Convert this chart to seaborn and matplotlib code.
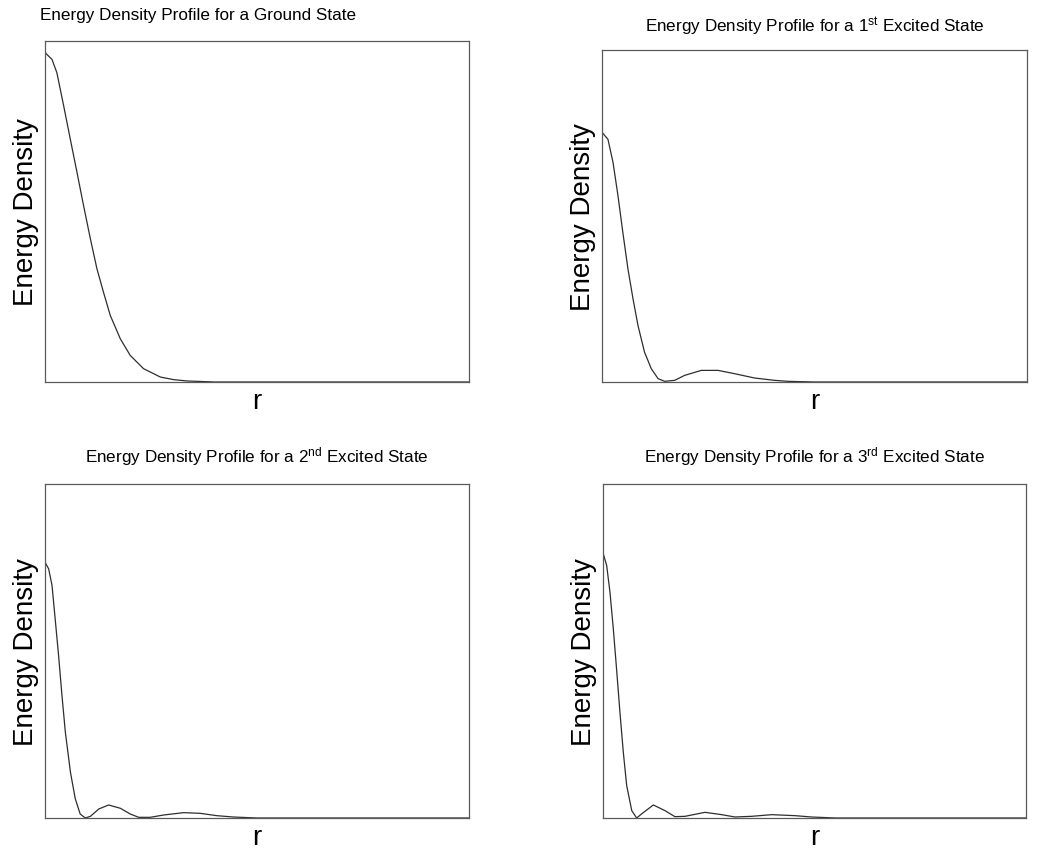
import numpy as np
import pandas as pd
import matplotlib
matplotlib.use("Agg")
import matplotlib.pyplot as plt
import seaborn as sns

# ---- data (normalized r, normalized energy density) ----
r_ground = [0.0, 0.0165, 0.028, 0.044, 0.0597, 0.0754, 0.091, 0.107, 0.1225, 0.138,
            0.154, 0.1775, 0.201, 0.2325, 0.272, 0.303, 0.335, 0.4, 0.6, 0.8, 1.0]
e_ground = [0.966, 0.946, 0.907, 0.81, 0.712, 0.615, 0.517, 0.42, 0.332, 0.263,
            0.195, 0.127, 0.078, 0.039, 0.0146, 0.007, 0.003, 0.0, 0.0, 0.0, 0.0]

r_first = [0.0, 0.014, 0.026, 0.0376, 0.049, 0.061, 0.0729, 0.0847, 0.100, 0.116,
           0.132, 0.1475, 0.171, 0.1945, 0.2337, 0.273, 0.3122, 0.359, 0.406, 0.438,
           0.5, 0.7, 1.0]
e_first = [0.752, 0.731, 0.661, 0.561, 0.451, 0.341, 0.251, 0.170, 0.090, 0.040,
           0.010, 0.002, 0.005, 0.020, 0.035, 0.035, 0.025, 0.012, 0.005, 0.002,
           0.0, 0.0, 0.0]

r_second = [0.0, 0.0086, 0.0165, 0.024, 0.032, 0.040, 0.048, 0.060, 0.0715, 0.083,
            0.095, 0.107, 0.127, 0.150, 0.178, 0.201, 0.221, 0.248, 0.280, 0.327,
            0.366, 0.405, 0.444, 0.5, 0.7, 1.0]
e_second = [0.766, 0.746, 0.697, 0.596, 0.487, 0.367, 0.257, 0.137, 0.057, 0.012,
            0.0, 0.005, 0.027, 0.039, 0.029, 0.012, 0.002, 0.002, 0.009, 0.016,
            0.014, 0.007, 0.003, 0.0, 0.0, 0.0]

r_third = [0.0, 0.0087, 0.0165, 0.0244, 0.032, 0.040, 0.048, 0.056, 0.068, 0.0796,
           0.091, 0.119, 0.1466, 0.170, 0.194, 0.241, 0.2806, 0.312, 0.351, 0.399,
           0.454, 0.493, 0.55, 0.75, 1.0]
e_third = [0.794, 0.756, 0.676, 0.566, 0.447, 0.317, 0.197, 0.097, 0.022, 0.0,
           0.012, 0.039, 0.022, 0.004, 0.005, 0.017, 0.010, 0.003, 0.005, 0.010,
           0.007, 0.003, 0.0, 0.0, 0.0]

titles = [
    "Energy Density Profile for a Ground State",
    r"Energy Density Profile for a 1$^{\mathrm{st}}$ Excited State",
    r"Energy Density Profile for a 2$^{\mathrm{nd}}$ Excited State",
    r"Energy Density Profile for a 3$^{\mathrm{rd}}$ Excited State",
]
x_label = "r"
y_label = "Energy Density"

# ---- style ----
sns.set_style("white")
plt.rcParams["font.family"] = ["Liberation Sans", "DejaVu Sans"]
plt.rcParams["text.color"] = "black"
plt.rcParams["axes.labelcolor"] = "black"
plt.rcParams["mathtext.fontset"] = "custom"
plt.rcParams["mathtext.rm"] = "Liberation Sans"
plt.rcParams["mathtext.it"] = "Liberation Sans:italic"
plt.rcParams["mathtext.bf"] = "Liberation Sans:bold"

fig = plt.figure(figsize=(10.54, 8.53), dpi=100)
W, H = 1054, 853
def px_axes(l, t, r, b):
    return fig.add_axes([l / W, 1 - b / H, (r - l) / W, (b - t) / H])

axes = [
    px_axes(45, 42, 469, 383),
    px_axes(602, 51, 1027, 383),
    px_axes(45, 485, 469, 819),
    px_axes(603, 485, 1026, 819),
]
data = [(r_ground, e_ground), (r_first, e_first), (r_second, e_second), (r_third, e_third)]
pads = [15.8, 13.7, 16.0, 16.0]

for i, (ax, (rx, ey)) in enumerate(zip(axes, data)):
    df = pd.DataFrame({"r": rx, "E": ey})
    sns.lineplot(data=df, x="r", y="E", ax=ax, color="#2e2e2e", linewidth=0.9)
    ax.set_xlim(0, 1)
    ax.set_ylim(0, 1)
    ax.set_xticks([])
    ax.set_yticks([])
    for s in ax.spines.values():
        s.set_visible(True)
        s.set_color("#5a5a5a")
        s.set_linewidth(0.9)
    ax.set_xlabel(x_label, fontsize=20, labelpad=4, color="black")
    ax.set_ylabel(y_label, fontsize=20, labelpad=4, color="black")
    if i == 0:
        ax.set_title(titles[i], fontsize=12.3, loc="left", x=-0.012, pad=pads[i], color="black")
    else:
        ax.set_title(titles[i], fontsize=12.3, pad=pads[i], color="black")

fig.savefig("out.png", dpi=100)
